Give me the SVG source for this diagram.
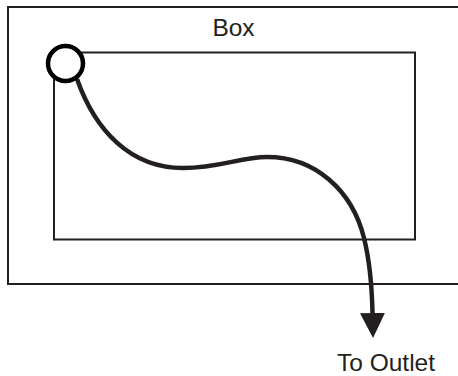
<svg xmlns="http://www.w3.org/2000/svg" width="458" height="376" viewBox="0 0 458 376">
<style>
.box{fill:none;stroke:#231f20;stroke-width:2}
.lbl{font-family:"Liberation Sans",Arial,sans-serif;font-size:24.5px;fill:#231f20;text-anchor:middle}
.wire{fill:none;stroke:#231f20;stroke-width:4.5}
</style>
<defs>
<marker id="arr" viewBox="0 0 25 25" refX="0" refY="12.5" markerWidth="25" markerHeight="25" markerUnits="userSpaceOnUse" orient="auto">
<polygon points="0,0 25,12.5 0,25" fill="#231f20"/>
</marker>
</defs>
<g id="outer-box">
<rect class="box" x="8" y="7" width="460" height="277"/>
<text class="lbl" x="233.5" y="36">Box</text>
</g>
<g id="inner-box">
<rect class="box" x="54" y="52.5" width="361" height="187"/>
</g>
<g id="connectors">
<path class="wire" d="M77,79 C95,130 130,168 183,168 C220,168 240,157 267,157 C315,157 352,190 364,238 C370,262 372,290 372.5,313" marker-end="url(#arr)"/>
</g>
<g id="socket">
<circle cx="65.5" cy="63.5" r="17.5" fill="#fff" stroke="#000" stroke-width="4.5"/>
</g>
<g id="outlet">
<text class="lbl" x="386" y="370.5">To Outlet</text>
</g>
</svg>
